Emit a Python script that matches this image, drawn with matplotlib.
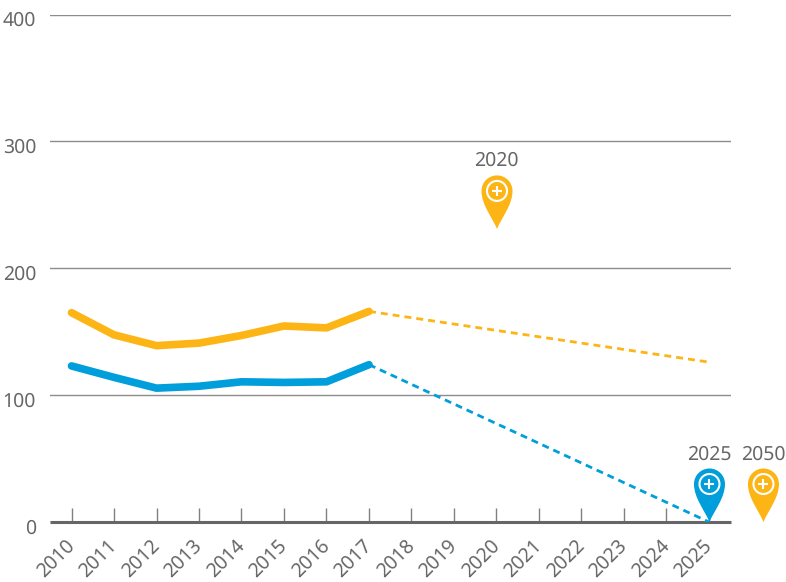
import matplotlib
matplotlib.use("Agg")
import matplotlib.pyplot as plt
from matplotlib.patches import Circle, PathPatch
from matplotlib.path import Path
from matplotlib.transforms import Affine2D, ScaledTranslation

plt.rcParams["font.family"] = ["Noto Sans", "DejaVu Sans"]
plt.rcParams["text.hinting"] = "no_hinting"
plt.rcParams["text.hinting_factor"] = 1

ORANGE = "#FDB515"
BLUE = "#009EDB"
GREY = "#666666"

years = list(range(2010, 2026))
hist_years = list(range(2010, 2018))
orange_vals = [165, 147.5, 139, 141, 147, 154.5, 153, 166]
blue_vals = [123, 114, 105.5, 107, 110.5, 110, 110.5, 124]
proj_years = [2017, 2025]
orange_proj = [166, 126]
blue_proj = [124, 0]
yticks = [0, 100, 200, 300, 400]

# pins: label, x, tip value, colour
pins = [("2020", 2020, 231, ORANGE), ("2025", 2025, 0, BLUE), ("2050", 2026.27, 0, ORANGE)]


def draw_pin(ax, x, y, color, label):
    """Map pin drawn in pixels, with its tip on data point (x, y)."""
    place = ScaledTranslation(x, y, ax.transData)
    r, cy, k = 15.5, 38, 8.6
    verts = [(0, 0), (-5, 12), (-r, 24), (-r, cy),
             (-r, cy + k), (-k, cy + r), (0, cy + r),
             (k, cy + r), (r, cy + k), (r, cy),
             (r, 24), (5, 12), (0, 0), (0, 0)]
    codes = [Path.MOVETO] + [Path.CURVE4] * 12 + [Path.CLOSEPOLY]
    ax.add_patch(PathPatch(Path(verts, codes), fc=color, ec="none",
                           transform=Affine2D().translate(0.5, 0) + place,
                           clip_on=False, zorder=5))
    ax.add_patch(Circle((0.5, cy), 10, fc="none", ec="white", lw=1.5,
                        transform=Affine2D() + place, clip_on=False, zorder=6))
    for seg in ([(-4.5, cy), (5.5, cy)], [(0.5, cy - 5), (0.5, cy + 5)]):
        ax.add_patch(PathPatch(Path(seg), ec="white", lw=1.5,
                               transform=Affine2D() + place, clip_on=False, zorder=6))
    ax.annotate(label, (x, y), xytext=(0, 58 * 0.72), textcoords="offset points",
                ha="center", va="bottom", color=GREY, fontsize=14, annotation_clip=False)


fig = plt.figure(figsize=(7.86, 5.82), dpi=100)
ax = fig.add_axes([50 / 786, 60 / 582, 681 / 786, 507.5 / 582])
ax.set_xlim(2009.494, 2025.518)
ax.set_ylim(0, 400)

ax.set_yticks(yticks)
ax.yaxis.grid(True, color="#8c8c8c", lw=1)
ax.set_axisbelow(True)
for side in ["top", "left", "right"]:
    ax.spines[side].set_visible(False)
ax.spines["bottom"].set_color(GREY)
ax.spines["bottom"].set_linewidth(2.2)
ax.spines["bottom"].set_capstyle("butt")

ax.set_xticks(years)
ax.set_xticklabels(years, rotation=45, ha="right", va="top", rotation_mode="anchor")
ax.tick_params(axis="x", direction="in", length=10, width=1, color="#808080",
               labelcolor=GREY, labelsize=14, pad=10)
ax.tick_params(axis="y", length=0, labelcolor=GREY, labelsize=14, pad=10)
for lab in ax.get_yticklabels():
    lab.set_transform(lab.get_transform() + ScaledTranslation(0, -3 / 72, fig.dpi_scale_trans))
for lab in ax.get_xticklabels():
    lab.set_transform(lab.get_transform() + ScaledTranslation(-5 / 72, 0, fig.dpi_scale_trans))

ax.plot(hist_years, orange_vals, color=ORANGE, lw=5.5, solid_capstyle="round", zorder=3)
ax.plot(hist_years, blue_vals, color=BLUE, lw=5.5, solid_capstyle="round", zorder=3)
ax.plot(proj_years, orange_proj, color=ORANGE, lw=2, ls=(0, (2.5, 1.8)), zorder=3)
ax.plot(proj_years, blue_proj, color=BLUE, lw=2, ls=(0, (2.5, 1.8)), zorder=3)

for label, x, y, color in pins:
    draw_pin(ax, x, y, color, label)

fig.savefig("out.png", dpi=100)
